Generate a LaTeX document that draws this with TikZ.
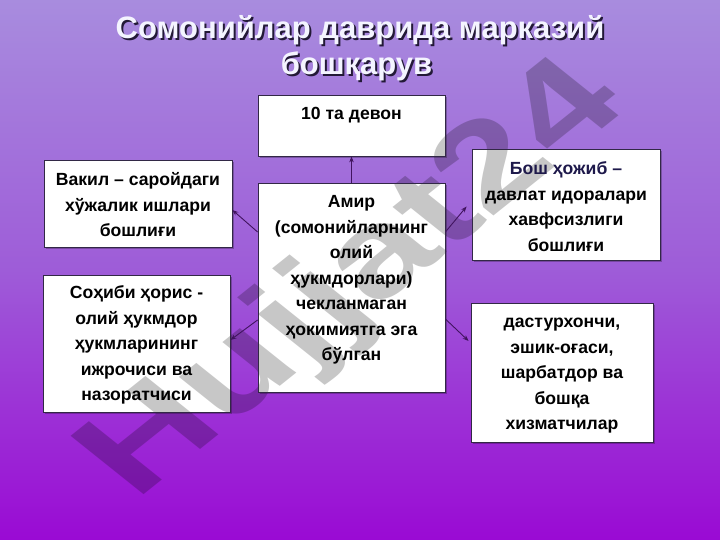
\documentclass[tikz,border=0pt]{standalone}
\usepackage{fontspec}
\setmainfont{Liberation Sans}
\usetikzlibrary{arrows.meta}
\pgfdeclarelayer{bg}
\pgfdeclarelayer{mid}
\pgfsetlayers{bg,mid,main}
\definecolor{bgtop}{RGB}{168,140,222}
\definecolor{bgmid}{RGB}{158,92,216}
\definecolor{bgbot}{RGB}{154,10,212}
\definecolor{edgec}{RGB}{50,40,70}
\definecolor{arrc}{RGB}{65,20,95}
\definecolor{shadc}{RGB}{35,25,55}
\definecolor{navy}{RGB}{30,25,75}
\definecolor{ttlc}{RGB}{244,244,255}
\begin{document}
\begin{tikzpicture}[x=1pt,y=-1pt,
  box/.style={draw=edgec, line width=0.8pt, inner sep=0pt},
  txt/.style={align=center, inner sep=0pt, font=\bfseries\fontsize{17.6}{25.5}\selectfont},
  conn/.style={draw=arrc, line width=0.9pt, -{Stealth[length=6pt,width=4.5pt]}},
  ttl/.style={anchor=base, inner sep=0pt, font=\bfseries\fontsize{31}{36}\selectfont}]
\useasboundingbox (0,0) rectangle (720,540);
\begin{pgfonlayer}{bg}
\shade[top color=bgtop, bottom color=bgbot, middle color=bgmid] (0,0) rectangle (720,540);
\end{pgfonlayer}
% title
\node[ttl, text=shadc] (t1s) at (362,41) {Сомонийлар даврида марказий};
\node[ttl, text=shadc] (t2s) at (358.5,77) {бошқарув};
\node[ttl, text=ttlc] (t1) at (360,39) {Сомонийлар даврида марказий};
\node[ttl, text=ttlc] (t2) at (356.5,75) {бошқарув};
% boxes
\node[box, minimum width=187pt, minimum height=61pt] (d10) at (351.5,125.5) {};
\node[box, minimum width=187pt, minimum height=209pt] (amir) at (351.5,287.5) {};
\node[box, minimum width=188pt, minimum height=87pt] (vakil) at (138,203.5) {};
\node[box, minimum width=188pt, minimum height=111pt] (bosh) at (566,204.5) {};
\node[box, minimum width=187pt, minimum height=137pt] (sohibi) at (136.5,343.5) {};
\node[box, minimum width=182pt, minimum height=139pt] (dast) at (562,372.5) {};
\begin{pgfonlayer}{bg}
\foreach \n in {d10,amir,vakil,bosh,sohibi,dast}{
  \fill[black, opacity=0.25] ([shift={(2pt,-2pt)}]\n.north west) rectangle ([shift={(2pt,-2pt)}]\n.south east);
  \fill[white] (\n.north west) rectangle (\n.south east);
}
\end{pgfonlayer}
% watermark
\begin{pgfonlayer}{mid}
\node[yscale=0.8, rotate=45, xscale=1.2, text opacity=0.22, inner sep=0pt, font=\bfseries\fontsize{150}{150}\selectfont] (wm) at (356,282) {Hujjat24};
\end{pgfonlayer}
% texts
\node[txt] (d10t) at (351.5,115) {10 та девон};
\node[txt] (amirt) at (351.5,280) {Амир\\(сомонийларнинг\\олий\\ҳукмдорлари)\\чекланмаган\\ҳокимиятга эга\\бўлган};
\node[txt] (vakilt) at (138,205) {Вакил – саройдаги\\хўжалик ишлари\\бошлиғи};
\node[txt] (bosht) at (566,206.5) {\textcolor{navy}{Бош ҳожиб –}\\давлат идоралари\\хавфсизлиги\\бошлиғи};
\node[txt] (sohibit) at (136.5,345) {Соҳиби ҳорис -\\олий ҳукмдор\\ҳукмларининг\\ижрочиси ва\\назоратчиси};
\node[txt] (dastt) at (562,376) {дастурхончи,\\эшик-оғаси,\\шарбатдор ва\\бошқа\\хизматчилар};
% connectors
\draw[conn] (amir.north) -- (d10.south);
\draw[conn] ([yshift=55.5pt]amir.west) -- ([yshift=-6.5pt]vakil.east);
\draw[conn] ([yshift=55.5pt]amir.east) -- ([xshift=-5pt,yshift=-2pt]bosh.west);
\draw[conn] ([yshift=-32.5pt]amir.west) -- ([yshift=3.5pt]sohibi.east);
\draw[conn] ([yshift=-31.5pt]amir.east) -- ([xshift=-2pt,yshift=31.5pt]dast.west);
\end{tikzpicture}
\end{document}
